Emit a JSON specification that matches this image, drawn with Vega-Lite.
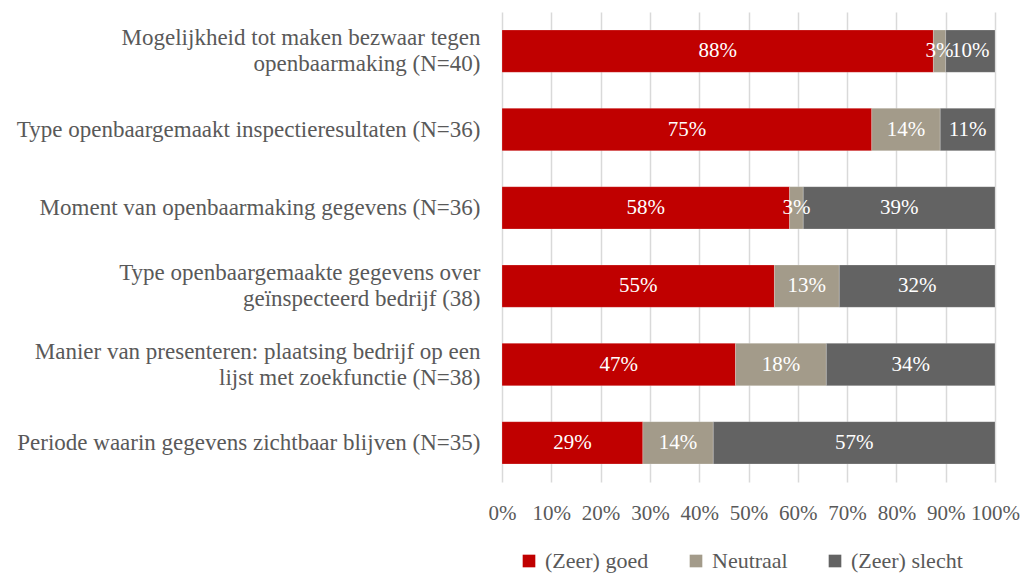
{
  "$schema": "https://vega.github.io/schema/vega-lite/v6.json",
  "autosize": "none",
  "width": 493,
  "height": 470,
  "padding": {"left": 502, "top": 12, "right": 30, "bottom": 93},
  "background": "white",
  "config": {
    "font": "Liberation Serif",
    "view": {"stroke": null}
  },
  "data": {
    "values": [
      {"item": "Mogelijkheid tot maken bezwaar tegen|openbaarmaking (N=40)", "oordeel": "(Zeer) goed", "rang": 1, "aandeel": 0.875},
      {"item": "Mogelijkheid tot maken bezwaar tegen|openbaarmaking (N=40)", "oordeel": "Neutraal", "rang": 2, "aandeel": 0.025},
      {"item": "Mogelijkheid tot maken bezwaar tegen|openbaarmaking (N=40)", "oordeel": "(Zeer) slecht", "rang": 3, "aandeel": 0.1},
      {"item": "Type openbaargemaakt inspectieresultaten (N=36)", "oordeel": "(Zeer) goed", "rang": 1, "aandeel": 0.75},
      {"item": "Type openbaargemaakt inspectieresultaten (N=36)", "oordeel": "Neutraal", "rang": 2, "aandeel": 0.1389},
      {"item": "Type openbaargemaakt inspectieresultaten (N=36)", "oordeel": "(Zeer) slecht", "rang": 3, "aandeel": 0.1111},
      {"item": "Moment van openbaarmaking gegevens (N=36)", "oordeel": "(Zeer) goed", "rang": 1, "aandeel": 0.5833},
      {"item": "Moment van openbaarmaking gegevens (N=36)", "oordeel": "Neutraal", "rang": 2, "aandeel": 0.0278},
      {"item": "Moment van openbaarmaking gegevens (N=36)", "oordeel": "(Zeer) slecht", "rang": 3, "aandeel": 0.3889},
      {"item": "Type openbaargemaakte gegevens over|geïnspecteerd bedrijf (38)", "oordeel": "(Zeer) goed", "rang": 1, "aandeel": 0.5526},
      {"item": "Type openbaargemaakte gegevens over|geïnspecteerd bedrijf (38)", "oordeel": "Neutraal", "rang": 2, "aandeel": 0.1316},
      {"item": "Type openbaargemaakte gegevens over|geïnspecteerd bedrijf (38)", "oordeel": "(Zeer) slecht", "rang": 3, "aandeel": 0.3158},
      {"item": "Manier van presenteren: plaatsing bedrijf op een|lijst met zoekfunctie (N=38)", "oordeel": "(Zeer) goed", "rang": 1, "aandeel": 0.4737},
      {"item": "Manier van presenteren: plaatsing bedrijf op een|lijst met zoekfunctie (N=38)", "oordeel": "Neutraal", "rang": 2, "aandeel": 0.1842},
      {"item": "Manier van presenteren: plaatsing bedrijf op een|lijst met zoekfunctie (N=38)", "oordeel": "(Zeer) slecht", "rang": 3, "aandeel": 0.3421},
      {"item": "Periode waarin gegevens zichtbaar blijven (N=35)", "oordeel": "(Zeer) goed", "rang": 1, "aandeel": 0.2857},
      {"item": "Periode waarin gegevens zichtbaar blijven (N=35)", "oordeel": "Neutraal", "rang": 2, "aandeel": 0.1429},
      {"item": "Periode waarin gegevens zichtbaar blijven (N=35)", "oordeel": "(Zeer) slecht", "rang": 3, "aandeel": 0.5714}
    ]
  },
  "encoding": {
    "y": {
      "field": "item",
      "type": "nominal",
      "sort": null,
      "title": null,
      "scale": {"paddingInner": 0.46, "paddingOuter": 0.23},
      "axis": {
        "domain": false,
        "ticks": false,
        "grid": false,
        "labelExpr": "split(datum.label, '|')",
        "labelOffset": {"condition": {"test": "indexof(datum.value, '|') >= 0", "value": -13}, "value": 0},
        "labelFontSize": 23,
        "labelLineHeight": 26,
        "labelColor": "#595959",
        "labelPadding": 22,
        "labelLimit": 600
      }
    },
    "x": {
      "field": "aandeel",
      "type": "quantitative",
      "stack": "zero",
      "title": null,
      "scale": {"domain": [0, 1], "nice": false},
      "axis": {
        "values": [0, 0.1, 0.2, 0.3, 0.4, 0.5, 0.6, 0.7, 0.8, 0.9, 1],
        "format": ".0%",
        "domain": false,
        "ticks": false,
        "grid": true,
        "gridColor": "#d9d9d9",
        "gridWidth": 1.5,
        "labelFontSize": 21,
        "labelColor": "#595959",
        "labelPadding": 20,
        "labelFlush": false,
        "labelOverlap": false
      }
    },
    "order": {"field": "rang", "type": "quantitative", "sort": "ascending"}
  },
  "layer": [
    {
      "mark": {"type": "bar", "stroke": "white", "strokeWidth": 0.5, "strokeOpacity": 0.4},
      "encoding": {
        "color": {
          "field": "oordeel",
          "type": "nominal",
          "sort": ["(Zeer) goed", "Neutraal", "(Zeer) slecht"],
          "scale": {"domain": ["(Zeer) goed", "Neutraal", "(Zeer) slecht"], "range": ["#C00000", "#A39B8A", "#636363"]},
          "legend": {
            "orient": "none",
            "legendX": 16,
            "legendY": 538,
            "padding": 0,
            "direction": "horizontal",
            "title": null,
            "symbolType": "square",
            "symbolSize": 160,
            "symbolStrokeWidth": 0,
            "labelFontSize": 22,
            "labelColor": "#595959",
            "columnPadding": 36,
            "labelOffset": 5
          }
        }
      }
    },
    {
      "mark": {"type": "text", "color": "white", "fontSize": 21, "align": "center", "baseline": "middle"},
      "encoding": {
        "x": {"field": "aandeel", "type": "quantitative", "stack": "zero", "bandPosition": 0.5},
        "detail": {"field": "oordeel", "type": "nominal"},
        "text": {"field": "aandeel", "type": "quantitative", "format": ".0%"}
      }
    }
  ]
}
